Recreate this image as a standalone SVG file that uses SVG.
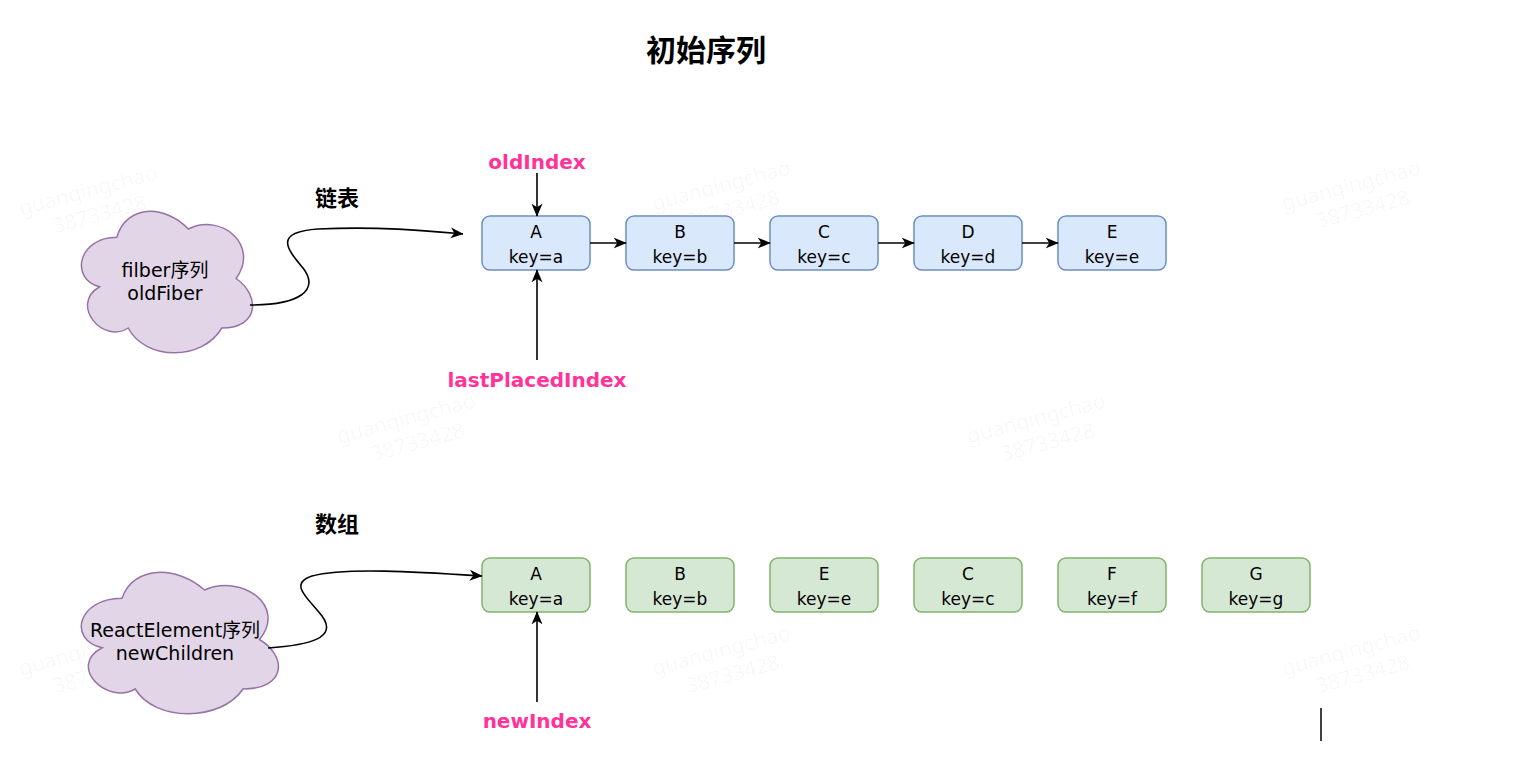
<svg xmlns="http://www.w3.org/2000/svg" width="1524" height="770" viewBox="0 0 1524 770">
  <style>
    .wm { font-family: "Noto Sans", "Liberation Sans", sans-serif; font-size: 21px; fill: #000; fill-opacity: 0.035; text-anchor: middle; }
    .t { font-family: "DejaVu Sans", "Noto Sans", "Noto Sans CJK SC", sans-serif; font-size: 17px; fill: #000; text-anchor: middle; }
    .c { font-family: "DejaVu Sans", "Noto Sans", "Noto Sans CJK SC", sans-serif; font-size: 19px; fill: #000; text-anchor: middle; }
    .h { font-family: "Noto Sans CJK SC", "Noto Sans", sans-serif; font-weight: bold; fill: #000; text-anchor: middle; }
    .pink { font-family: "DejaVu Sans", "Noto Sans", sans-serif; font-size: 20px; font-weight: bold; fill: #FF3399; text-anchor: middle; }
    .blue rect { fill: #dae8fc; stroke: #6c8ebf; stroke-width: 1.5; }
    .green rect { fill: #d5e8d4; stroke: #82b366; stroke-width: 1.5; }
    .cloud path { fill: #e1d5e7; stroke: #9673a6; stroke-width: 1.5; }
    .conn { fill: none; stroke: #000; stroke-width: 1.6; marker-end: url(#arr); }
  </style>
  <defs>
    <marker id="arr" viewBox="0 0 10 10" markerWidth="13" markerHeight="13" refX="9.5" refY="5" orient="auto" markerUnits="userSpaceOnUse">
      <path d="M0,0.8 L10,5 L0,9.2 L2.8,5 Z" fill="#000"/>
    </marker>
  </defs>
  <rect width="1524" height="770" fill="#fff"/>

  <g id="watermarks">
    <g transform="translate(92,205) rotate(-15)"><text class="wm" x="0" y="-8">guanqingchao</text><text class="wm" x="5" y="18">38733428</text></g>
    <g transform="translate(725,200) rotate(-15)"><text class="wm" x="0" y="-8">guanqingchao</text><text class="wm" x="5" y="18">38733428</text></g>
    <g transform="translate(1355,200) rotate(-15)"><text class="wm" x="0" y="-8">guanqingchao</text><text class="wm" x="5" y="18">38733428</text></g>
    <g transform="translate(410,433) rotate(-15)"><text class="wm" x="0" y="-8">guanqingchao</text><text class="wm" x="5" y="18">38733428</text></g>
    <g transform="translate(1040,433) rotate(-15)"><text class="wm" x="0" y="-8">guanqingchao</text><text class="wm" x="5" y="18">38733428</text></g>
    <g transform="translate(92,665) rotate(-15)"><text class="wm" x="0" y="-8">guanqingchao</text><text class="wm" x="5" y="18">38733428</text></g>
    <g transform="translate(725,665) rotate(-15)"><text class="wm" x="0" y="-8">guanqingchao</text><text class="wm" x="5" y="18">38733428</text></g>
    <g transform="translate(1355,665) rotate(-15)"><text class="wm" x="0" y="-8">guanqingchao</text><text class="wm" x="5" y="18">38733428</text></g>
  </g>

  <g id="title"><text class="h" x="706" y="61" font-size="30">初始序列</text></g>
  <g id="label-list"><text class="h" x="337" y="206" font-size="22">链表</text></g>
  <g id="label-array"><text class="h" x="337" y="532" font-size="22">数组</text></g>

  <g id="cloud-oldFiber" class="cloud">
    <path d="M116.75,237.25 C78.55,237.25 69,278.5 99.56,286.75 C69,304.9 103.38,344.5 128.21,328 C145.4,361 202.7,361 221.8,328 C260,328 260,295 236.1,278.5 C260,245.5 221.8,212.5 188.4,229 C164.5,204.25 126.3,204.25 116.75,237.25 Z"/>
    <text class="c" x="165" y="277">filber序列</text>
    <text class="c" x="165" y="300">oldFiber</text>
  </g>

  <g id="cloud-newChildren" class="cloud">
    <path d="M122,598.25 C78,598.25 67,639.5 102.2,647.75 C67,665.9 106.6,705.5 135.2,689 C155,722 221,722 243,689 C287,689 287,656 259.5,639.5 C287,606.5 243,573.5 204.5,590 C177,565.25 133,565.25 122,598.25 Z"/>
    <text class="c" x="175" y="637">ReactElement序列</text>
    <text class="c" x="175" y="660">newChildren</text>
  </g>

  <g id="old-A" class="blue"><rect x="482" y="216" width="108" height="54" rx="8"/><text class="t" x="536" y="238">A</text><text class="t" x="536" y="263">key=a</text></g>
  <g id="old-B" class="blue"><rect x="626" y="216" width="108" height="54" rx="8"/><text class="t" x="680" y="238">B</text><text class="t" x="680" y="263">key=b</text></g>
  <g id="old-C" class="blue"><rect x="770" y="216" width="108" height="54" rx="8"/><text class="t" x="824" y="238">C</text><text class="t" x="824" y="263">key=c</text></g>
  <g id="old-D" class="blue"><rect x="914" y="216" width="108" height="54" rx="8"/><text class="t" x="968" y="238">D</text><text class="t" x="968" y="263">key=d</text></g>
  <g id="old-E" class="blue"><rect x="1058" y="216" width="108" height="54" rx="8"/><text class="t" x="1112" y="238">E</text><text class="t" x="1112" y="263">key=e</text></g>

  <g id="new-A" class="green"><rect x="482" y="558" width="108" height="54" rx="8"/><text class="t" x="536" y="580">A</text><text class="t" x="536" y="605">key=a</text></g>
  <g id="new-B" class="green"><rect x="626" y="558" width="108" height="54" rx="8"/><text class="t" x="680" y="580">B</text><text class="t" x="680" y="605">key=b</text></g>
  <g id="new-E" class="green"><rect x="770" y="558" width="108" height="54" rx="8"/><text class="t" x="824" y="580">E</text><text class="t" x="824" y="605">key=e</text></g>
  <g id="new-C" class="green"><rect x="914" y="558" width="108" height="54" rx="8"/><text class="t" x="968" y="580">C</text><text class="t" x="968" y="605">key=c</text></g>
  <g id="new-F" class="green"><rect x="1058" y="558" width="108" height="54" rx="8"/><text class="t" x="1112" y="580">F</text><text class="t" x="1112" y="605">key=f</text></g>
  <g id="new-G" class="green"><rect x="1202" y="558" width="108" height="54" rx="8"/><text class="t" x="1256" y="580">G</text><text class="t" x="1256" y="605">key=g</text></g>

  <g id="label-oldIndex"><text class="pink" x="537" y="169">oldIndex</text></g>
  <g id="label-lastPlacedIndex"><text class="pink" x="537" y="387">lastPlacedIndex</text></g>
  <g id="label-newIndex"><text class="pink" x="537" y="728">newIndex</text></g>

  <g id="connectors">
    <path class="conn" d="M250,305 C300,305 320,290 303,268 C288,250 272,232 318,229 C380,226 430,231 463,234"/>
    <path class="conn" d="M268,648 C310,645 338,638 322,616 C308,598 288,584 312,576 C345,567 420,572 482,576"/>
    <path class="conn" d="M590,243 L626,243"/>
    <path class="conn" d="M734,243 L770,243"/>
    <path class="conn" d="M878,243 L914,243"/>
    <path class="conn" d="M1022,243 L1058,243"/>
    <path class="conn" d="M537,173 L537,216"/>
    <path class="conn" d="M537,360 L537,270"/>
    <path class="conn" d="M537,702 L537,612"/>
  </g>

  <g id="cursor-line"><line x1="1321" y1="708" x2="1321" y2="741" stroke="#000" stroke-width="1.5"/></g>
</svg>
